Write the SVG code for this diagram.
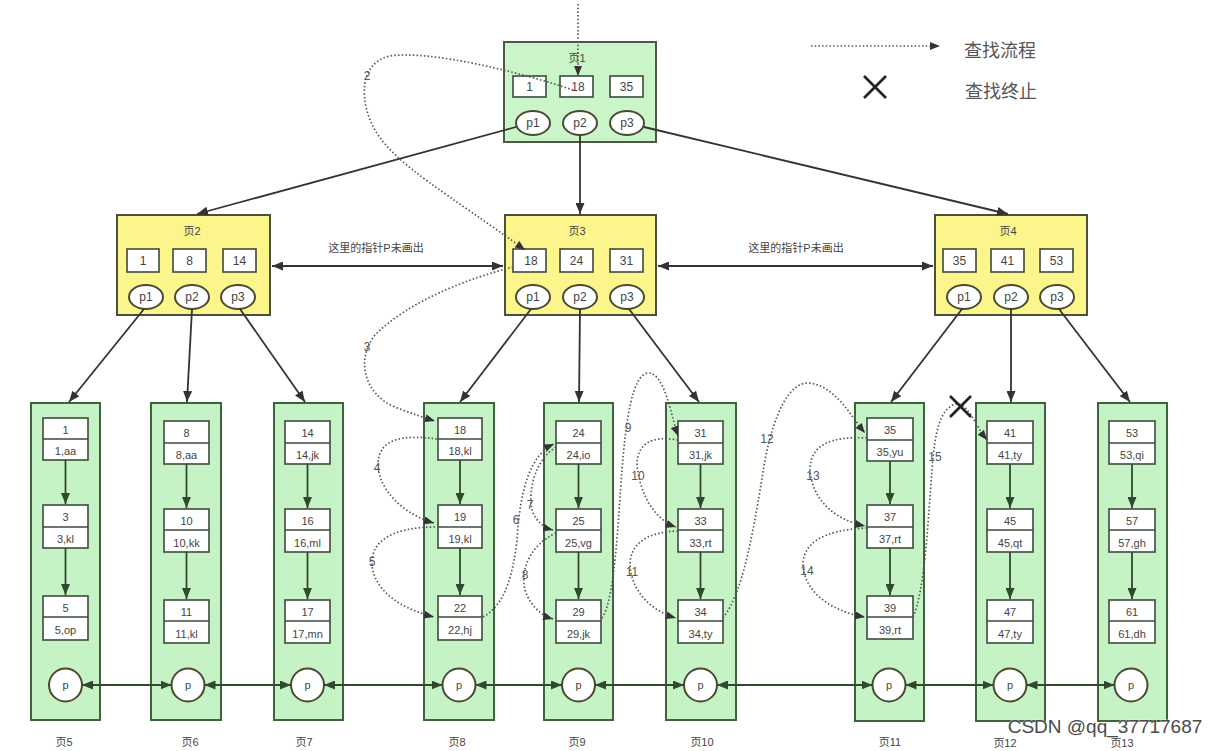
<svg xmlns="http://www.w3.org/2000/svg" width="1220" height="751" viewBox="0 0 1220 751">
<defs>
<style>
text{font-family:"Liberation Sans","Noto Sans CJK SC",sans-serif;fill:#444;text-anchor:middle}
.pg1{fill:#c9f5c9;stroke:#4a5a44;stroke-width:2}
.pgy{fill:#fbf58c;stroke:#4a5040;stroke-width:2}
.leaf{fill:#c6f3c6;stroke:#3d643d;stroke-width:2}
.key{fill:#fff;stroke:#3d4a3d;stroke-width:1.6}
.ell{fill:#fff;stroke:#4a4a32;stroke-width:2}
.t12{font-size:12px}
.t11{font-size:11px}
.ln{stroke:#333;stroke-width:1.8;fill:none}
.lg{stroke:#2f4a2f;stroke-width:1.8;fill:none}
.dt{stroke:#555;stroke-width:1.7;fill:none;stroke-dasharray:1.5 2.2}
.num{font-size:12px;fill:#555}
.x{stroke:#222;stroke-width:2.6}
</style>
<marker id="a" markerUnits="userSpaceOnUse" markerWidth="11" markerHeight="9" refX="11" refY="4.5" orient="auto-start-reverse"><path d="M0,0 L11,4.5 L0,9 z" fill="#333"/></marker>
<marker id="ag" markerUnits="userSpaceOnUse" markerWidth="11" markerHeight="9" refX="11" refY="4.5" orient="auto-start-reverse"><path d="M0,0 L11,4.5 L0,9 z" fill="#2f4a2f"/></marker>
<marker id="ad" markerUnits="userSpaceOnUse" markerWidth="10" markerHeight="8" refX="10" refY="4" orient="auto"><path d="M0,0 L10,4 L0,8 z" fill="#333"/></marker>
</defs>
<rect width="1220" height="751" fill="#fff"/>

<g id="legend">
<line x1="811" y1="46" x2="940" y2="46" class="dt" marker-end="url(#ad)"/>
<text x="1000" y="57" style="font-size:18px;fill:#555">查找流程</text>
<line x1="864" y1="76" x2="886" y2="98" class="x"/><line x1="886" y1="76" x2="864" y2="98" class="x"/>
<text x="1001" y="98" style="font-size:18px;fill:#555">查找终止</text>
</g>

<g id="page1">
<rect x="504" y="42" width="152" height="100" class="pg1"/>
<text x="577" y="62" class="t11">页1</text>
<rect x="513" y="76" width="33" height="21" class="key"/><text x="529.5" y="91" class="t12">1</text>
<rect x="560" y="76" width="33" height="21" class="key"/><text x="578" y="91" class="t12">18</text>
<rect x="610" y="76" width="33" height="21" class="key"/><text x="626.5" y="91" class="t12">35</text>
<ellipse cx="533" cy="123" rx="17" ry="12" class="ell"/><text x="533" y="127" class="t12">p1</text>
<ellipse cx="580" cy="123" rx="17" ry="12" class="ell"/><text x="580" y="127" class="t12">p2</text>
<ellipse cx="627" cy="123" rx="17" ry="12" class="ell"/><text x="627" y="127" class="t12">p3</text>
</g>

<g id="page2">
<rect x="117" y="215" width="153" height="100" class="pgy"/>
<text x="192" y="235" class="t11">页2</text>
<rect x="127" y="249" width="32" height="23" class="key"/><text x="143" y="265" class="t12">1</text>
<rect x="173" y="249" width="33" height="23" class="key"/><text x="189.5" y="265" class="t12">8</text>
<rect x="223" y="249" width="33" height="23" class="key"/><text x="239.5" y="265" class="t12">14</text>
<ellipse cx="146" cy="297" rx="17" ry="12" class="ell"/><text x="146" y="301" class="t12">p1</text>
<ellipse cx="192" cy="297" rx="17" ry="12" class="ell"/><text x="192" y="301" class="t12">p2</text>
<ellipse cx="238" cy="297" rx="17" ry="12" class="ell"/><text x="238" y="301" class="t12">p3</text>
</g>

<g id="page3">
<rect x="505" y="215" width="151" height="100" class="pgy"/>
<text x="577" y="235" class="t11">页3</text>
<rect x="513" y="249" width="33" height="23" class="key"/><text x="531" y="265" class="t12">18</text>
<rect x="560" y="249" width="33" height="23" class="key"/><text x="576.5" y="265" class="t12">24</text>
<rect x="610" y="249" width="33" height="23" class="key"/><text x="626.5" y="265" class="t12">31</text>
<ellipse cx="533" cy="297" rx="17" ry="12" class="ell"/><text x="533" y="301" class="t12">p1</text>
<ellipse cx="580" cy="297" rx="17" ry="12" class="ell"/><text x="580" y="301" class="t12">p2</text>
<ellipse cx="627" cy="297" rx="17" ry="12" class="ell"/><text x="627" y="301" class="t12">p3</text>
</g>

<g id="page4">
<rect x="935" y="215" width="152" height="100" class="pgy"/>
<text x="1008" y="235" class="t11">页4</text>
<rect x="943" y="249" width="33" height="23" class="key"/><text x="959.5" y="265" class="t12">35</text>
<rect x="991" y="249" width="33" height="23" class="key"/><text x="1007.5" y="265" class="t12">41</text>
<rect x="1040" y="249" width="33" height="23" class="key"/><text x="1056.5" y="265" class="t12">53</text>
<ellipse cx="964" cy="297" rx="17" ry="12" class="ell"/><text x="964" y="301" class="t12">p1</text>
<ellipse cx="1011" cy="297" rx="17" ry="12" class="ell"/><text x="1011" y="301" class="t12">p2</text>
<ellipse cx="1057" cy="297" rx="17" ry="12" class="ell"/><text x="1057" y="301" class="t12">p3</text>
</g>

<g id="leaf5">
<rect x="31" y="403" width="69" height="317" class="leaf"/>
<rect x="43" y="418" width="45" height="42" class="key"/><line x1="43" y1="439" x2="88" y2="439" class="key"/><text x="65.5" y="434" class="t11">1</text><text x="65.5" y="455" class="t11">1,aa</text>
<rect x="43" y="505" width="45" height="43" class="key"/><line x1="43" y1="527" x2="88" y2="527" class="key"/><text x="65.5" y="521" class="t11">3</text><text x="65.5" y="543" class="t11">3,kl</text>
<rect x="43" y="596" width="45" height="44" class="key"/><line x1="43" y1="617" x2="88" y2="617" class="key"/><text x="65.5" y="612" class="t11">5</text><text x="65.5" y="634" class="t11">5,op</text>
<circle cx="65.5" cy="685" r="16.5" class="ell"/><text x="65.5" y="689" class="t11">p</text>
<text x="64" y="746" class="t11">页5</text>
</g>

<g id="leaf6">
<rect x="151" y="403" width="70" height="317" class="leaf"/>
<rect x="164" y="421" width="45" height="43" class="key"/><line x1="164" y1="443" x2="209" y2="443" class="key"/><text x="186.5" y="437" class="t11">8</text><text x="186.5" y="459" class="t11">8,aa</text>
<rect x="164" y="509" width="45" height="43" class="key"/><line x1="164" y1="530" x2="209" y2="530" class="key"/><text x="186.5" y="525" class="t11">10</text><text x="186.5" y="547" class="t11">10,kk</text>
<rect x="164" y="600" width="45" height="43" class="key"/><line x1="164" y1="621" x2="209" y2="621" class="key"/><text x="186.5" y="616" class="t11">11</text><text x="186.5" y="638" class="t11">11,kl</text>
<circle cx="188" cy="685" r="16.5" class="ell"/><text x="188" y="689" class="t11">p</text>
<text x="190" y="746" class="t11">页6</text>
</g>

<g id="leaf7">
<rect x="274" y="403" width="69" height="317" class="leaf"/>
<rect x="285" y="421" width="45" height="43" class="key"/><line x1="285" y1="443" x2="330" y2="443" class="key"/><text x="307.5" y="437" class="t11">14</text><text x="307.5" y="459" class="t11">14,jk</text>
<rect x="285" y="509" width="45" height="43" class="key"/><line x1="285" y1="530" x2="330" y2="530" class="key"/><text x="307.5" y="525" class="t11">16</text><text x="307.5" y="547" class="t11">16,ml</text>
<rect x="285" y="600" width="45" height="43" class="key"/><line x1="285" y1="621" x2="330" y2="621" class="key"/><text x="307.5" y="616" class="t11">17</text><text x="307.5" y="638" class="t11">17,mn</text>
<circle cx="307.5" cy="685" r="16.5" class="ell"/><text x="307.5" y="689" class="t11">p</text>
<text x="304" y="746" class="t11">页7</text>
</g>

<g id="leaf8">
<rect x="424" y="403" width="70" height="317" class="leaf"/>
<rect x="438" y="418" width="44" height="42" class="key"/><line x1="438" y1="439" x2="482" y2="439" class="key"/><text x="460" y="434" class="t11">18</text><text x="460" y="455" class="t11">18,kl</text>
<rect x="438" y="505" width="44" height="43" class="key"/><line x1="438" y1="527" x2="482" y2="527" class="key"/><text x="460" y="521" class="t11">19</text><text x="460" y="543" class="t11">19,kl</text>
<rect x="438" y="596" width="44" height="44" class="key"/><line x1="438" y1="617" x2="482" y2="617" class="key"/><text x="460" y="612" class="t11">22</text><text x="460" y="634" class="t11">22,hj</text>
<circle cx="459" cy="685" r="16.5" class="ell"/><text x="459" y="689" class="t11">p</text>
<text x="457" y="746" class="t11">页8</text>
</g>

<g id="leaf9">
<rect x="544" y="403" width="69" height="317" class="leaf"/>
<rect x="556" y="421" width="45" height="43" class="key"/><line x1="556" y1="443" x2="601" y2="443" class="key"/><text x="578.5" y="437" class="t11">24</text><text x="578.5" y="459" class="t11">24,io</text>
<rect x="556" y="509" width="45" height="43" class="key"/><line x1="556" y1="530" x2="601" y2="530" class="key"/><text x="578.5" y="525" class="t11">25</text><text x="578.5" y="547" class="t11">25,vg</text>
<rect x="556" y="600" width="45" height="43" class="key"/><line x1="556" y1="621" x2="601" y2="621" class="key"/><text x="578.5" y="616" class="t11">29</text><text x="578.5" y="638" class="t11">29,jk</text>
<circle cx="578.5" cy="685" r="16.5" class="ell"/><text x="578.5" y="689" class="t11">p</text>
<text x="577" y="746" class="t11">页9</text>
</g>

<g id="leaf10">
<rect x="666" y="403" width="70" height="317" class="leaf"/>
<rect x="678" y="421" width="45" height="43" class="key"/><line x1="678" y1="443" x2="723" y2="443" class="key"/><text x="700.5" y="437" class="t11">31</text><text x="700.5" y="459" class="t11">31,jk</text>
<rect x="678" y="509" width="45" height="43" class="key"/><line x1="678" y1="530" x2="723" y2="530" class="key"/><text x="700.5" y="525" class="t11">33</text><text x="700.5" y="547" class="t11">33,rt</text>
<rect x="678" y="600" width="45" height="43" class="key"/><line x1="678" y1="621" x2="723" y2="621" class="key"/><text x="700.5" y="616" class="t11">34</text><text x="700.5" y="638" class="t11">34,ty</text>
<circle cx="700.5" cy="685" r="16.5" class="ell"/><text x="700.5" y="689" class="t11">p</text>
<text x="702" y="746" class="t11">页10</text>
</g>

<g id="leaf11">
<rect x="855" y="403" width="69" height="318" class="leaf"/>
<rect x="867" y="418" width="46" height="43" class="key"/><line x1="867" y1="440" x2="913" y2="440" class="key"/><text x="890" y="434" class="t11">35</text><text x="890" y="456" class="t11">35,yu</text>
<rect x="867" y="505" width="46" height="43" class="key"/><line x1="867" y1="527" x2="913" y2="527" class="key"/><text x="890" y="521" class="t11">37</text><text x="890" y="543" class="t11">37,rt</text>
<rect x="867" y="596" width="46" height="43" class="key"/><line x1="867" y1="617" x2="913" y2="617" class="key"/><text x="890" y="612" class="t11">39</text><text x="890" y="634" class="t11">39,rt</text>
<circle cx="889" cy="685" r="16.5" class="ell"/><text x="889" y="689" class="t11">p</text>
<text x="890" y="746" class="t11">页11</text>
</g>

<g id="leaf12">
<rect x="976" y="403" width="69" height="318" class="leaf"/>
<rect x="987" y="421" width="46" height="43" class="key"/><line x1="987" y1="443" x2="1033" y2="443" class="key"/><text x="1010" y="437" class="t11">41</text><text x="1010" y="459" class="t11">41,ty</text>
<rect x="987" y="509" width="46" height="43" class="key"/><line x1="987" y1="530" x2="1033" y2="530" class="key"/><text x="1010" y="525" class="t11">45</text><text x="1010" y="547" class="t11">45,qt</text>
<rect x="987" y="600" width="46" height="43" class="key"/><line x1="987" y1="621" x2="1033" y2="621" class="key"/><text x="1010" y="616" class="t11">47</text><text x="1010" y="638" class="t11">47,ty</text>
<circle cx="1010" cy="685" r="16.5" class="ell"/><text x="1010" y="689" class="t11">p</text>
<text x="1005" y="747" class="t11">页12</text>
</g>

<g id="leaf13">
<rect x="1098" y="403" width="69" height="318" class="leaf"/>
<rect x="1109" y="421" width="46" height="43" class="key"/><line x1="1109" y1="443" x2="1155" y2="443" class="key"/><text x="1132" y="437" class="t11">53</text><text x="1132" y="459" class="t11">53,qi</text>
<rect x="1109" y="509" width="46" height="43" class="key"/><line x1="1109" y1="530" x2="1155" y2="530" class="key"/><text x="1132" y="525" class="t11">57</text><text x="1132" y="547" class="t11">57,gh</text>
<rect x="1109" y="600" width="46" height="43" class="key"/><line x1="1109" y1="621" x2="1155" y2="621" class="key"/><text x="1132" y="616" class="t11">61</text><text x="1132" y="638" class="t11">61,dh</text>
<circle cx="1131" cy="685" r="16.5" class="ell"/><text x="1131" y="689" class="t11">p</text>
<text x="1122" y="747" class="t11">页13</text>
</g>

<g id="connectors">
<line x1="516" y1="127" x2="197" y2="214" class="ln" marker-end="url(#a)"/>
<line x1="580" y1="135" x2="580" y2="214" class="ln" marker-end="url(#a)"/>
<line x1="644" y1="127" x2="1008" y2="214" class="ln" marker-end="url(#a)"/>
<line x1="144" y1="309" x2="69" y2="402" class="ln" marker-end="url(#a)"/>
<line x1="192" y1="309" x2="187" y2="402" class="ln" marker-end="url(#a)"/>
<line x1="240" y1="309" x2="305" y2="402" class="ln" marker-end="url(#a)"/>
<line x1="531" y1="309" x2="460" y2="402" class="ln" marker-end="url(#a)"/>
<line x1="580" y1="309" x2="579" y2="402" class="ln" marker-end="url(#a)"/>
<line x1="629" y1="309" x2="699" y2="402" class="ln" marker-end="url(#a)"/>
<line x1="962" y1="309" x2="891" y2="402" class="ln" marker-end="url(#a)"/>
<line x1="1011" y1="309" x2="1011" y2="402" class="ln" marker-end="url(#a)"/>
<line x1="1059" y1="309" x2="1130" y2="402" class="ln" marker-end="url(#a)"/>
<line x1="272" y1="266" x2="503" y2="266" class="ln" marker-start="url(#a)" marker-end="url(#a)"/>
<text x="376" y="252" class="t11">这里的指针P未画出</text>
<line x1="658" y1="266" x2="933" y2="266" class="ln" marker-start="url(#a)" marker-end="url(#a)"/>
<text x="796" y="252" class="t11">这里的指针P未画出</text>
<line x1="65.5" y1="460" x2="65.5" y2="504" class="lg" marker-end="url(#ag)"/>
<line x1="65.5" y1="548" x2="65.5" y2="595" class="lg" marker-end="url(#ag)"/>
<line x1="186.5" y1="464" x2="186.5" y2="508" class="lg" marker-end="url(#ag)"/>
<line x1="186.5" y1="552" x2="186.5" y2="599" class="lg" marker-end="url(#ag)"/>
<line x1="307.5" y1="464" x2="307.5" y2="508" class="lg" marker-end="url(#ag)"/>
<line x1="307.5" y1="552" x2="307.5" y2="599" class="lg" marker-end="url(#ag)"/>
<line x1="460" y1="460" x2="460" y2="504" class="lg" marker-end="url(#ag)"/>
<line x1="460" y1="548" x2="460" y2="595" class="lg" marker-end="url(#ag)"/>
<line x1="578.5" y1="464" x2="578.5" y2="508" class="lg" marker-end="url(#ag)"/>
<line x1="578.5" y1="552" x2="578.5" y2="599" class="lg" marker-end="url(#ag)"/>
<line x1="700.5" y1="464" x2="700.5" y2="508" class="lg" marker-end="url(#ag)"/>
<line x1="700.5" y1="552" x2="700.5" y2="599" class="lg" marker-end="url(#ag)"/>
<line x1="890" y1="461" x2="890" y2="504" class="lg" marker-end="url(#ag)"/>
<line x1="890" y1="548" x2="890" y2="595" class="lg" marker-end="url(#ag)"/>
<line x1="1010" y1="464" x2="1010" y2="508" class="lg" marker-end="url(#ag)"/>
<line x1="1010" y1="552" x2="1010" y2="599" class="lg" marker-end="url(#ag)"/>
<line x1="1132" y1="464" x2="1132" y2="508" class="lg" marker-end="url(#ag)"/>
<line x1="1132" y1="552" x2="1132" y2="599" class="lg" marker-end="url(#ag)"/>
<line x1="82" y1="685" x2="171.5" y2="685" class="lg" marker-start="url(#ag)" marker-end="url(#ag)"/>
<line x1="204.5" y1="685" x2="291" y2="685" class="lg" marker-start="url(#ag)" marker-end="url(#ag)"/>
<line x1="324" y1="685" x2="442.5" y2="685" class="lg" marker-start="url(#ag)" marker-end="url(#ag)"/>
<line x1="475.5" y1="685" x2="562" y2="685" class="lg" marker-start="url(#ag)" marker-end="url(#ag)"/>
<line x1="595" y1="685" x2="684" y2="685" class="lg" marker-start="url(#ag)" marker-end="url(#ag)"/>
<line x1="717" y1="685" x2="872.5" y2="685" class="lg" marker-start="url(#ag)" marker-end="url(#ag)"/>
<line x1="905.5" y1="685" x2="993.5" y2="685" class="lg" marker-start="url(#ag)" marker-end="url(#ag)"/>
<line x1="1026.5" y1="685" x2="1114.5" y2="685" class="lg" marker-start="url(#ag)" marker-end="url(#ag)"/>
<path d="M578,4 L578,76" class="dt" marker-end="url(#ad)"/>
<path d="M573,90 C520,72 430,50 390,56 C360,62 358,100 375,130 C395,165 450,195 525,250" class="dt" marker-end="url(#ad)"/>
<text x="367" y="80" class="num">2</text>
<path d="M513,267 C470,278 410,300 375,335 C355,360 365,395 395,407 C410,413 425,418 435,421" class="dt" marker-end="url(#ad)"/>
<text x="367" y="351" class="num">3</text>
<path d="M437,439 C400,434 380,440 378,462 C377,490 405,515 434,523" class="dt" marker-end="url(#ad)"/>
<text x="377" y="472" class="num">4</text>
<path d="M435,527 C395,527 372,540 372,562 C372,592 405,610 434,617" class="dt" marker-end="url(#ad)"/>
<text x="372" y="566" class="num">5</text>
<path d="M483,617 C505,605 513,575 517,540 C520,490 530,455 554,444" class="dt" marker-end="url(#ad)"/>
<text x="516" y="524" class="num">6</text>
<path d="M556,447 C535,460 528,490 532,510 C536,522 545,528 553,530" class="dt" marker-end="url(#ad)"/>
<text x="530" y="509" class="num">7</text>
<path d="M556,533 C530,545 520,570 525,590 C530,605 540,615 553,619" class="dt" marker-end="url(#ad)"/>
<text x="525" y="579" class="num">8</text>
<path d="M602,618 C615,600 618,520 622,470 C626,420 632,375 648,373 C665,372 672,420 678,436" class="dt" marker-end="url(#ad)"/>
<text x="628" y="432" class="num">9</text>
<path d="M678,440 C650,435 637,445 637,465 C640,495 655,520 676,527" class="dt" marker-end="url(#ad)"/>
<text x="638" y="480" class="num">10</text>
<path d="M678,531 C645,532 630,545 630,565 C632,595 655,612 676,618" class="dt" marker-end="url(#ad)"/>
<text x="632" y="576" class="num">11</text>
<path d="M723,618 C745,590 755,520 765,460 C775,410 790,383 808,383 C835,385 850,415 865,433" class="dt" marker-end="url(#ad)"/>
<text x="767" y="443" class="num">12</text>
<path d="M867,438 C830,436 810,445 810,470 C812,500 835,520 865,526" class="dt" marker-end="url(#ad)"/>
<text x="813" y="480" class="num">13</text>
<path d="M867,528 C820,530 803,545 803,565 C805,595 835,612 865,617" class="dt" marker-end="url(#ad)"/>
<text x="807" y="575" class="num">14</text>
<path d="M913,617 C925,590 928,520 932,470 C935,430 940,410 955,404 C968,402 975,425 987,440" class="dt" marker-end="url(#ad)"/>
<text x="935" y="461" class="num">15</text>
<line x1="950" y1="396" x2="971" y2="417" class="x"/><line x1="971" y1="396" x2="950" y2="417" class="x"/>
</g>
<text x="1105" y="733" style="font-size:19px;fill:#4a4a4a;stroke:#fff;stroke-width:0.6;paint-order:stroke">CSDN @qq_37717687</text>
</svg>
